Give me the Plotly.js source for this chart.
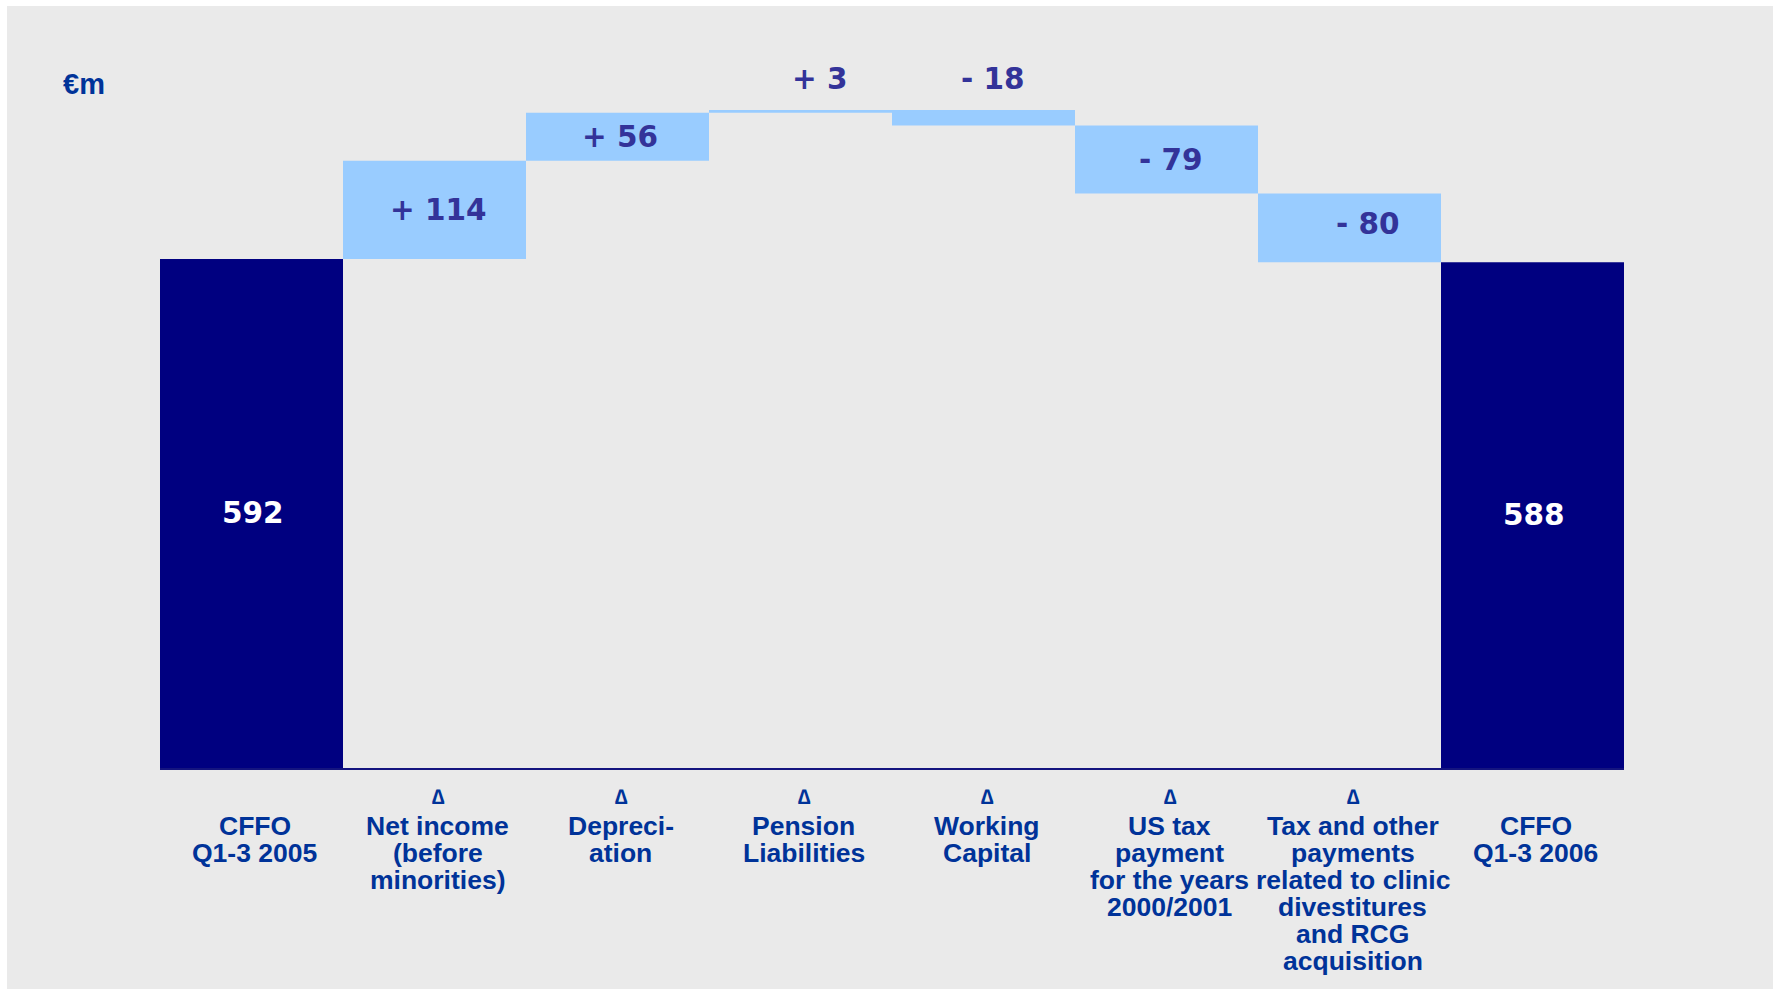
<!DOCTYPE html>
<html>
<head>
<meta charset="utf-8">
<script src="https://cdn.plot.ly/plotly-3.0.1.min.js"></script>
<style>
  html, body { margin: 0; padding: 0; background: #ffffff; width: 1776px; height: 990px; overflow: hidden; }
  #chart { position: absolute; left: 7px; top: 6px; width: 1766px; height: 983px; }
</style>
</head>
<body>
<div id="chart"></div>
<script>
// ---- data ----
const categories = [
  "CFFO<br>Q1-3 2005",
  "Net income<br>(before<br>minorities)",
  "Depreci-<br>ation",
  "Pension<br>Liabilities",
  "Working<br>Capital",
  "US tax<br>payment<br>for the years<br>2000/2001",
  "Tax and other<br>payments<br>related to clinic<br>divestitures<br>and RCG<br>acquisition",
  "CFFO<br>Q1-3 2006"
];
const isDelta = [false, true, true, true, true, true, true, false];
const measures = ["absolute", "relative", "relative", "relative", "relative", "relative", "relative", "total"];
const values = [592, 114, 56, 3, -18, -79, -80, 588];
const unitLabel = "€m";

// ---- layout tweaks (not data) ----
const labelXShift = [1, 4, 2, 19, 9, 4, 18, 1];
const labelYShift = [0, 0, 0, 0, 0, 0, 4, 0];
const Y_MAX = 800;
const PLOT_H = 688;
const PX_PER_UNIT = PLOT_H / Y_MAX;

const NAVY = "#000080";
const LIGHT = "#99ccff";
const VAL_COLOR = "#333399";
const CAT_COLOR = "#003399";
const BG = "#eaeaea";

const catKeys = categories.map(c => c.replace(/<br>/g, " "));

const trace = {
  type: "waterfall",
  x: catKeys,
  y: values,
  measure: measures,
  increasing: { marker: { color: LIGHT, line: { width: 0 } } },
  decreasing: { marker: { color: LIGHT, line: { width: 0 } } },
  totals: { marker: { color: NAVY, line: { width: 0 } } },
  connector: { visible: false },
  textinfo: "none",
  hoverinfo: "skip",
  showlegend: false
};

const annotations = [];

// value labels computed from the data
let cum = 0;
values.forEach((v, i) => {
  let start, end;
  if (measures[i] === "absolute") { start = 0; end = v; cum = v; }
  else if (measures[i] === "total") { start = 0; end = cum; }
  else { start = cum; end = cum + v; cum = end; }
  const txt = measures[i] === "relative" ? (v >= 0 ? "+ " : "- ") + Math.abs(v) : String(end);
  const small = Math.abs(end - start) * PX_PER_UNIT < 34;
  annotations.push({
    xref: "x", yref: "y",
    x: i,
    y: small ? Math.max(start, end) : (start + end) / 2,
    yshift: (small ? 31 : 0) + labelYShift[i],
    xshift: labelXShift[i],
    text: txt,
    showarrow: false,
    xanchor: "center", yanchor: "middle",
    font: { family: "DejaVu Sans, Verdana, sans-serif", size: 29.5, weight: 700,
            color: measures[i] === "relative" ? VAL_COLOR : "#ffffff" }
  });
});

// category labels (one annotation per line for tight line spacing)
const LINE_PITCH = 27;
const FIRST_LINE = 58;
categories.forEach((c, i) => {
  const lines = c.split("<br>");
  lines.forEach((ln, k) => {
    annotations.push({
      xref: "x", yref: "paper", x: i, y: 0,
      xanchor: "center", yanchor: "middle",
      yshift: -(FIRST_LINE + LINE_PITCH * k),
      xshift: 3,
      text: ln, showarrow: false,
      font: { family: "Liberation Sans, Arial, sans-serif", size: 26.5, weight: 700, color: CAT_COLOR }
    });
  });
  if (isDelta[i]) {
    annotations.push({
      xref: "x", yref: "paper", x: i, y: 0,
      xanchor: "center", yanchor: "middle",
      yshift: -28, xshift: 4,
      text: "∆", showarrow: false,
      font: { family: "Liberation Sans, Arial, sans-serif", size: 21, weight: 700, color: CAT_COLOR }
    });
  }
});

// unit label
annotations.push({
  xref: "paper", yref: "paper", x: 0, y: 1,
  xanchor: "left", yanchor: "middle",
  xshift: -99, yshift: -4,
  text: unitLabel, showarrow: false,
  font: { family: "Liberation Sans, Arial, sans-serif", size: 29, weight: 700, color: CAT_COLOR }
});

const layout = {
  width: 1766, height: 983,
  margin: { l: 153, r: 149, t: 74, b: 221, pad: 0 },
  paper_bgcolor: BG,
  plot_bgcolor: BG,
  waterfallgap: 0,
  xaxis: {
    type: "category",
    range: [-0.5, 7.5],
    showticklabels: false,
    ticks: "",
    showgrid: false,
    zeroline: false,
    showline: true,
    linecolor: "#14147f",
    linewidth: 2,
    fixedrange: true
  },
  yaxis: {
    range: [0, Y_MAX],
    visible: false,
    showgrid: false,
    zeroline: false,
    fixedrange: true
  },
  annotations: annotations
};

Plotly.newPlot("chart", [trace], layout, { displayModeBar: false, staticPlot: true });
</script>
</body>
</html>
